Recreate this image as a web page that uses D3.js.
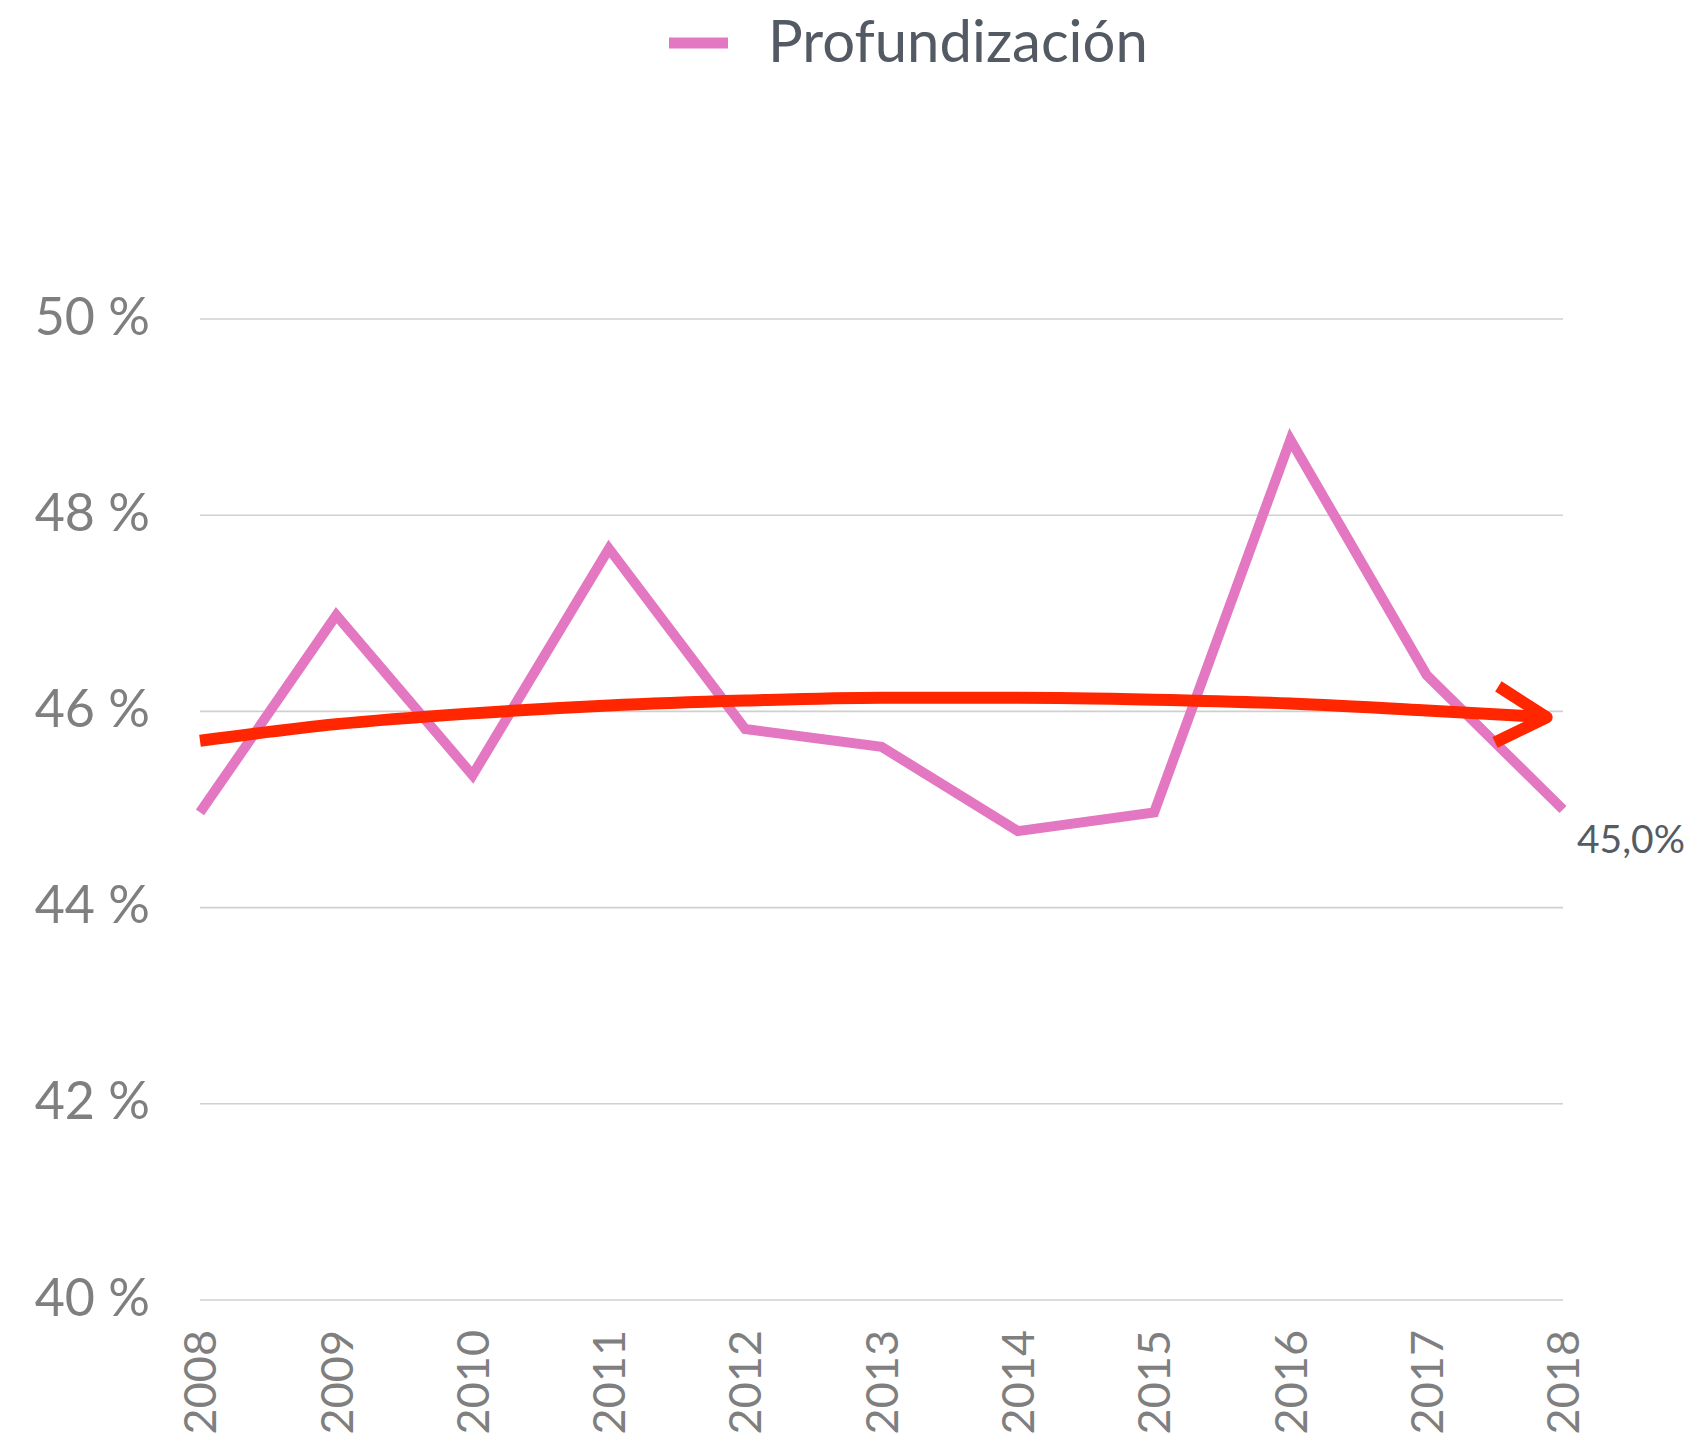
<!DOCTYPE html>
<html>
<head>
<meta charset="utf-8">
<script src="https://cdn.jsdelivr.net/npm/d3@7"></script>
<style>
  html, body { margin: 0; padding: 0; background: #ffffff; }
  svg { display: block; font-family: Lato, "Open Sans", sans-serif; }
</style>
</head>
<body>
<svg id="chart" width="1696" height="1441"></svg>
<script>
// Profundización por año (%)
const years = [2008, 2009, 2010, 2011, 2012, 2013, 2014, 2015, 2016, 2017, 2018];
const profundizacion = [44.97, 46.98, 45.35, 47.66, 45.82, 45.64, 44.78, 44.97, 48.77, 46.37, 45.0];

// Tendencia (curva con flecha)
const trendYears = [2008, 2009, 2010, 2011, 2012, 2013, 2014, 2015, 2016, 2017, 2017.88];
const trendValues = [45.70, 45.87, 45.98, 46.06, 46.11, 46.14, 46.14, 46.12, 46.08, 46.01, 45.94];

const yTicks = [40, 42, 44, 46, 48, 50];
const yTickLabels = ["40 %", "42 %", "44 %", "46 %", "48 %", "50 %"];
const seriesName = "Profundización";
const lastValueLabel = "45,0%";

const svg = d3.select("#chart");

const x = d3.scaleLinear().domain([2008, 2018]).range([200, 1563]);
const y = d3.scaleLinear().domain([40, 50]).range([1300, 319]);

// grid lines
svg.append("g")
  .selectAll("line")
  .data(yTicks)
  .join("line")
  .attr("x1", x(2008)).attr("x2", x(2018))
  .attr("y1", d => y(d)).attr("y2", d => y(d))
  .attr("stroke", "#d0d0d0")
  .attr("stroke-width", 1.6);

// y-axis labels
svg.append("g")
  .selectAll("text")
  .data(yTicks)
  .join("text")
  .attr("x", 150)
  .attr("y", d => y(d))
  .attr("dy", "0.3em")
  .attr("text-anchor", "end")
  .attr("font-size", 52)
  .attr("fill", "#7f7f7f")
  .text((d, i) => yTickLabels[i]);

// x-axis labels (rotated)
svg.append("g")
  .selectAll("text")
  .data(years)
  .join("text")
  .attr("transform", d => `translate(${x(d)},1330) rotate(-90)`)
  .attr("dy", "0.36em")
  .attr("text-anchor", "end")
  .attr("font-size", 45)
  .attr("fill", "#7f7f7f")
  .text(d => d);

// series line
const line = d3.line()
  .x((d, i) => x(years[i]))
  .y(d => y(d));

svg.append("path")
  .datum(profundizacion)
  .attr("d", line)
  .attr("fill", "none")
  .attr("stroke", "#e377c2")
  .attr("stroke-width", 10)
  .attr("stroke-linejoin", "miter")
  .attr("stroke-miterlimit", 10);

// arrow marker for the trend curve
const defs = svg.append("defs");
defs.append("marker")
  .attr("id", "chevron")
  .attr("markerUnits", "userSpaceOnUse")
  .attr("viewBox", "-70 -40 90 80")
  .attr("refX", 0).attr("refY", 0)
  .attr("markerWidth", 90).attr("markerHeight", 80)
  .attr("orient", "auto")
  .append("path")
  .attr("d", "M-50,-28 L0,0 L-50,28")
  .attr("fill", "none")
  .attr("stroke", "#ff2600")
  .attr("stroke-width", 12)
  .attr("stroke-linejoin", "round");

const trendLine = d3.line()
  .x((d, i) => x(trendYears[i]))
  .y(d => y(d))
  .curve(d3.curveMonotoneX);

svg.append("path")
  .datum(trendValues)
  .attr("d", trendLine)
  .attr("fill", "none")
  .attr("stroke", "#ff2600")
  .attr("stroke-width", 12)
  .attr("marker-end", "url(#chevron)");

// last value label
svg.append("text")
  .attr("x", x(2018) + 14)
  .attr("y", y(profundizacion[profundizacion.length - 1]) + 43)
  .attr("font-size", 39)
  .attr("fill", "#555b63")
  .text(lastValueLabel);

// legend
const legend = svg.append("g");
legend.append("line")
  .attr("x1", 669).attr("x2", 728)
  .attr("y1", 43).attr("y2", 43)
  .attr("stroke", "#e377c2")
  .attr("stroke-width", 11);
legend.append("text")
  .attr("x", 768).attr("y", 62)
  .attr("font-size", 58)
  .attr("fill", "#545a64")
  .text(seriesName);
</script>
</body>
</html>
